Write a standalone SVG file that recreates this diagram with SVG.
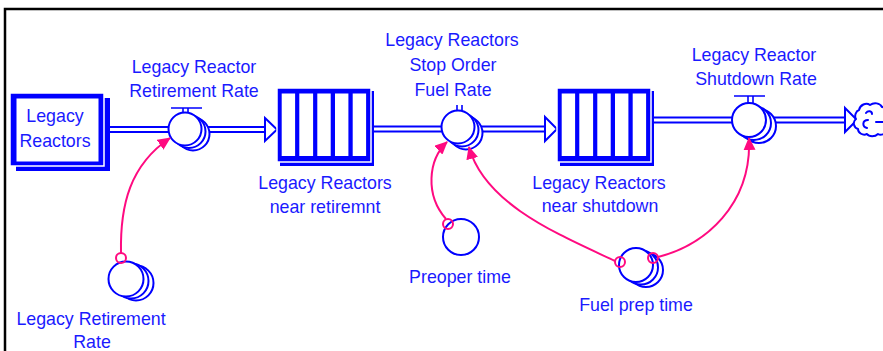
<svg xmlns="http://www.w3.org/2000/svg" width="883" height="351" viewBox="0 0 883 351">
<defs>
<style>
text{font-family:"Liberation Sans",Arial,Helvetica,sans-serif;font-size:17.8px;fill:#1a1aff;text-anchor:middle}
.po{stroke:#0000ff;stroke-width:7;fill:none}
.pi{stroke:#fff;stroke-width:3;fill:none}
.head{fill:#fff;stroke:#0000ff;stroke-width:2;stroke-linejoin:miter}
.vc{fill:#fff;stroke:#0000ff;stroke-width:2}
.tick{stroke:#0000ff;stroke-width:1.6;fill:none}
.link{fill:none;stroke:#ff0a80;stroke-width:2}
.dot{fill:none;stroke:#ff0a80;stroke-width:2}
.blue{fill:#0000ff}
.front{fill:#0000ff;stroke:#fff;stroke-width:1.5}
.wht{fill:#fff}
.cloud{fill:#fff;stroke:#0000ff;stroke-width:2;stroke-linecap:round;stroke-linejoin:round}
</style>
<marker id="arr" viewBox="0 0 13 12" refX="12" refY="6" markerWidth="13" markerHeight="12" markerUnits="userSpaceOnUse" orient="auto"><path d="M0,0 L13,6 L0,12 z" fill="#ff0a80"/></marker>
</defs>
<rect width="883" height="351" fill="#fff"/>
<path d="M5,351 V9 H883" stroke="#000" stroke-width="2.5" fill="none"/>

<g id="connectors-flows">
  <path class="po" d="M104,129.5 H266"/><path class="pi" d="M104,129.5 H266"/>
  <polygon class="head" points="265,118 277,129.5 265,141"/>
  <path class="po" d="M371,129 H546"/><path class="pi" d="M371,129 H546"/>
  <polygon class="head" points="545,117 557,129 545,141"/>
  <path class="po" d="M651,120 H846"/><path class="pi" d="M651,120 H846"/>
  <polygon class="head" points="845,108 857,120 845,132"/>
</g>

<g id="stock-legacy-reactors">
  <rect class="blue" x="16" y="98" width="94" height="73"/>
  <rect class="front" x="10" y="93" width="94" height="73"/>
  <rect class="wht" x="16.5" y="98.5" width="82" height="63"/>
  <text x="55" y="122">Legacy</text>
  <text x="55" y="147">Reactors</text>
</g>

<g id="valve-retirement-rate">
  <circle class="vc" cx="193" cy="134" r="16.5"/>
  <circle class="vc" cx="189" cy="131.5" r="16.5"/>
  <circle class="vc" cx="185" cy="129" r="16.5"/>
  <path class="tick" d="M171,108 H202 M183,108 V113 M188,108 V113"/>
  <text x="194" y="73">Legacy Reactor</text>
  <text x="194" y="97">Retirement Rate</text>
</g>

<g id="stock-near-retirement">
  <rect class="blue" x="280" y="91" width="94" height="75"/>
  <rect class="front" x="277" y="88" width="94" height="74"/>
  <rect class="wht" x="281.7" y="93.5" width="13.4" height="62.5"/>
  <rect class="wht" x="299.3" y="93.5" width="13.8" height="62.5"/>
  <rect class="wht" x="317.3" y="93.5" width="13.4" height="62.5"/>
  <rect class="wht" x="335" y="93.5" width="13.4" height="62.5"/>
  <rect class="wht" x="352.7" y="93.5" width="13.4" height="62.5"/>
  <text x="325" y="189">Legacy Reactors</text>
  <text x="325" y="213">near retiremnt</text>
</g>

<g id="valve-stop-order-fuel-rate">
  <circle class="vc" cx="466" cy="133" r="16.5"/>
  <circle class="vc" cx="462" cy="130" r="16.5"/>
  <circle class="vc" cx="458" cy="127" r="16.5"/>
  <path class="tick" d="M457,105 V110.5 M462,105 V110.5"/>
  <text x="452" y="46">Legacy Reactors</text>
  <text x="453" y="71">Stop Order</text>
  <text x="453" y="96">Fuel Rate</text>
</g>

<g id="stock-near-shutdown">
  <rect class="blue" x="560" y="91" width="94" height="75"/>
  <rect class="front" x="557" y="88" width="94" height="74"/>
  <rect class="wht" x="561.7" y="93.5" width="13.4" height="62.5"/>
  <rect class="wht" x="579.3" y="93.5" width="13.8" height="62.5"/>
  <rect class="wht" x="597.3" y="93.5" width="13.4" height="62.5"/>
  <rect class="wht" x="615" y="93.5" width="13.4" height="62.5"/>
  <rect class="wht" x="632.7" y="93.5" width="13.4" height="62.5"/>
  <text x="599" y="189">Legacy Reactors</text>
  <text x="600" y="212">near shutdown</text>
</g>

<g id="valve-shutdown-rate">
  <circle class="vc" cx="759" cy="126" r="17"/>
  <circle class="vc" cx="754" cy="123" r="17"/>
  <circle class="vc" cx="749" cy="120" r="17"/>
  <path class="tick" d="M734,96 H765 M748,96 V103 M753,96 V103"/>
  <text x="754" y="61">Legacy Reactor</text>
  <text x="756" y="85">Shutdown Rate</text>
</g>

<g id="cloud-sink">
  <path class="cloud" d="M859,110 c1,-5 7,-8 11,-5 c4,-3 10,-2 12,2 c3,0 4,3 4,6 V131 c-1,3 -5,5 -8,3 c-3,3 -9,3 -11,0 c-4,2 -9,-1 -9,-5 c-4,-1 -6,-7 -2,-10 c-2,-3 0,-8 3,-9 z"/>
  <path class="cloud" fill="none" d="M867,128 c-5,-1 -5,-8 1,-8 M866,113 c2,-3 6,-2 6,1 M876,122 h7"/>
</g>

<g id="aux-legacy-retirement-rate">
  <circle class="vc" cx="136" cy="283" r="17.5"/>
  <circle class="vc" cx="131" cy="281" r="17.5"/>
  <circle class="vc" cx="126" cy="279" r="17.5"/>
  <text x="91" y="325">Legacy Retirement</text>
  <text x="92" y="348">Rate</text>
</g>

<g id="aux-preoper-time">
  <circle class="vc" cx="461" cy="237" r="18"/>
  <text x="460" y="283">Preoper time</text>
</g>

<g id="aux-fuel-prep-time">
  <circle class="vc" cx="646" cy="270" r="17"/>
  <circle class="vc" cx="641" cy="267.5" r="17"/>
  <circle class="vc" cx="636" cy="265" r="17"/>
  <text x="636" y="311">Fuel prep time</text>
</g>

<g id="connectors-links">
  <path class="link" marker-end="url(#arr)" d="M121,253 C120,205 130,165 170,138"/>
  <circle class="dot" cx="121" cy="258" r="5"/>
  <path class="link" marker-end="url(#arr)" d="M446,219 C425,195 428,160 447,142"/>
  <circle class="dot" cx="448" cy="224" r="5"/>
  <path class="link" marker-end="url(#arr)" d="M615,261 C560,235 485,205 469,147"/>
  <circle class="dot" cx="620" cy="262" r="5"/>
  <path class="link" marker-end="url(#arr)" d="M658,257 C705,245 752,205 749,138"/>
  <circle class="dot" cx="653" cy="258" r="5"/>
</g>
</svg>
